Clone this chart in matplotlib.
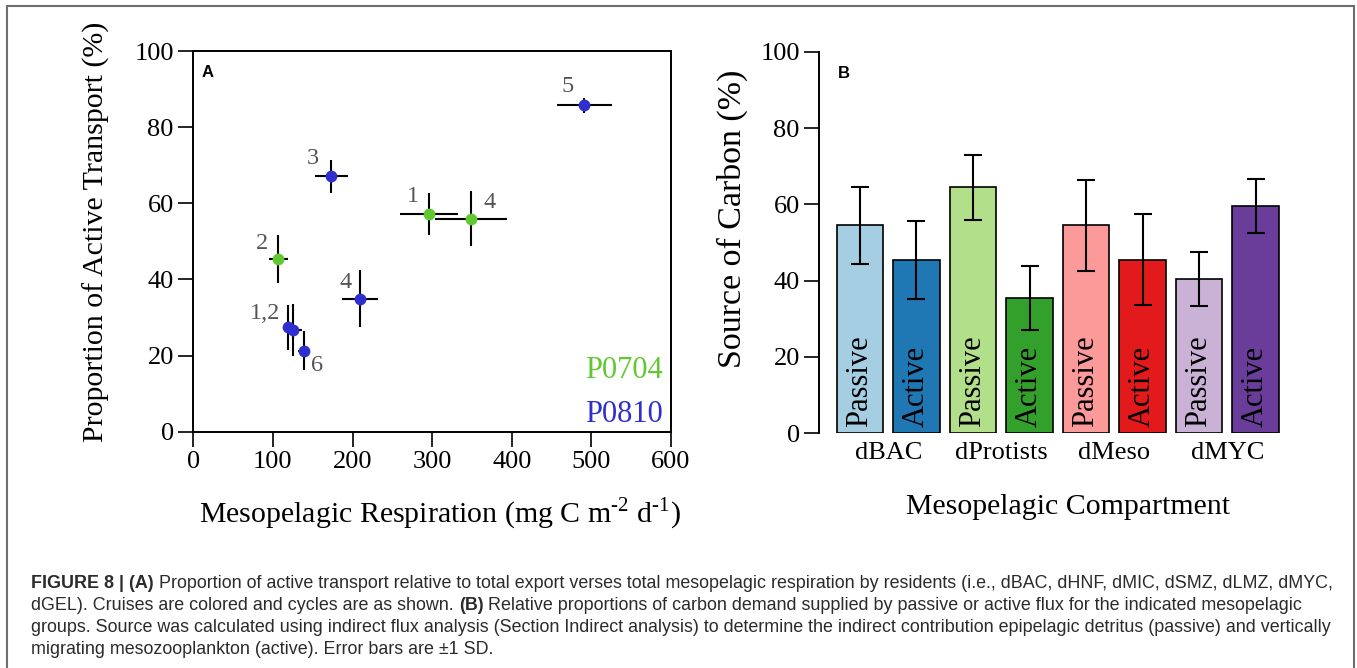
import matplotlib
matplotlib.use('Agg')
import matplotlib.pyplot as plt
from matplotlib.patches import Rectangle
from matplotlib.text import Annotation

plt.rcParams['font.family'] = ['Liberation Serif', 'DejaVu Serif']
plt.rcParams['mathtext.fontset'] = 'custom'
plt.rcParams['mathtext.rm'] = 'Liberation Serif'

W, H = 1357, 668

# ---- panel A data (cruise P0704, cycles 1, 2, 4) ----
p0704_resp = [296, 107, 349]
p0704_resp_sd = [36, 12.5, 45.5]
p0704_active = [57.1, 45.4, 55.9]
p0704_active_sd = [5.5, 6.3, 7.2]

# ---- panel A data (cruise P0810, cycles 1-6) ----
p0810_resp = [118.6, 125.6, 173.4, 209.4, 491.2, 138.7]
p0810_resp_sd = [5, 10.5, 20.5, 23, 35, 7]
p0810_active = [27.4, 26.7, 67.1, 34.9, 85.7, 21.3]
p0810_active_sd = [5.9, 6.9, 4.3, 7.5, 1.9, 5.1]

# cycle labels (text, x, y)
cycle_labels = [('1', 276, 61.7), ('4', 371.5, 60.3), ('2', 85.9, 49.5),
                ('3', 150.8, 71.8), ('4', 191.5, 39.2), ('1,2', 90.1, 31.1),
                ('5', 470.7, 90.6), ('6', 155, 17.5)]

# ---- panel B data ----
groups = ['dBAC', 'dProtists', 'dMeso', 'dMYC']
passive = [54.5, 64.5, 54.5, 40.4]
passive_sd = [10.1, 8.5, 12.0, 7.0]
active = [45.5, 35.5, 45.5, 59.6]
active_sd = [10.2, 8.4, 11.9, 7.0]
passive_col = ['#a6cee3', '#b2df8a', '#fb9a99', '#cab2d6']
active_col = ['#1f78b4', '#33a02c', '#e31a1c', '#6a3d9a']

green = '#62c832'
blue = '#2f2fd0'

fig = plt.figure(figsize=(W / 100, H / 100), dpi=100)

# outer frame
fig.add_artist(Rectangle((7 / W, -0.02), 1347 / W, (668 - 6) / H + 0.02,
                         transform=fig.transFigure, fill=False,
                         edgecolor='#6e6e6e', linewidth=1.5))

# ================= panel A =================
axA = fig.add_axes([193.3 / W, (H - 431.7) / H, 477.7 / W, 380.7 / H])
for xs, xe, ys, ye, c in [(p0704_resp, p0704_resp_sd, p0704_active, p0704_active_sd, green),
                          (p0810_resp, p0810_resp_sd, p0810_active, p0810_active_sd, blue)]:
    axA.errorbar(xs, ys, xerr=xe, yerr=ye, fmt='none', ecolor='black',
                 elinewidth=1.5, capsize=0, zorder=2)
    axA.plot(xs, ys, 'o', color=c, markersize=8.5, markeredgewidth=0, zorder=3)

for t, x, y in cycle_labels:
    axA.text(x, y, t, color='#555555', fontsize=17.5, ha='center', va='center')

axA.text(590, 14.1, 'P0704', color=green, fontsize=22, ha='right', va='baseline')
axA.text(590, 2.6, 'P0810', color=blue, fontsize=22, ha='right', va='baseline')
axA.text(0.017, 0.963, 'A', transform=axA.transAxes, fontsize=12,
         fontweight='bold', family='Liberation Sans', ha='left', va='top')

axA.set_xlim(0, 600)
axA.set_ylim(0, 100)
axA.set_xticks(range(0, 601, 100))
axA.set_yticks(range(0, 101, 20))
axA.tick_params(direction='out', length=11, width=1.2, labelsize=19, pad=3)
for s in axA.spines.values():
    s.set_linewidth(1.4)
axA.set_xlabel('Mesopelagic Respiration (mg C m$^{\\mathregular{\u20102}}$ '
               'd$^{\\mathregular{\u20101}}$)', fontsize=21.5)
axA.set_ylabel('Proportion of Active Transport (%)', fontsize=21.5)
axA.xaxis.set_label_coords(0.516, -0.169)
axA.yaxis.set_label_coords(-0.174, 0.525)

# ================= panel B =================
axB = fig.add_axes([819.3 / W, (H - 433.3) / H, 470.7 / W, 381.6 / H])
heights, errs, cols, names = [], [], [], []
for i in range(len(groups)):
    heights += [passive[i], active[i]]
    errs += [passive_sd[i], active_sd[i]]
    cols += [passive_col[i], active_col[i]]
    names += ['Passive', 'Active']
xpos = list(range(len(heights)))
axB.bar(xpos, heights, width=0.826, color=cols, edgecolor='black',
        linewidth=1.2, zorder=2)
axB.errorbar(xpos, heights, yerr=errs, fmt='none', ecolor='black',
             elinewidth=1.5, capsize=6.5, capthick=1.5, zorder=3)
for x, n in zip(xpos, names):
    axB.text(x, 1.7, n, rotation=90, ha='center', va='bottom', fontsize=22,
             color='black', zorder=4)

axB.set_xlim(-0.72, 7.61)
axB.set_ylim(0, 100)
axB.set_yticks(range(0, 101, 20))
axB.set_xticks([0.5, 2.5, 4.5, 6.5])
axB.set_xticklabels(groups)
axB.tick_params(axis='y', direction='out', length=11, width=1.2, labelsize=19, pad=3)
axB.tick_params(axis='x', length=0, labelsize=19, pad=6)
for side in ['top', 'right', 'bottom']:
    axB.spines[side].set_visible(False)
axB.spines['left'].set_linewidth(1.4)
axB.spines['left'].set_bounds(0, 100)
axB.text(0.04, 0.963, 'B', transform=axB.transAxes, fontsize=12,
         fontweight='bold', family='Liberation Sans', ha='left', va='top')
axB.set_xlabel('Mesopelagic Compartment', fontsize=21.5)
axB.set_ylabel('Source of Carbon (%)', fontsize=24.5)
axB.xaxis.set_label_coords(0.529, -0.159)
axB.yaxis.set_label_coords(-0.152, 0.5616)

# ================= caption =================
cap_lines = [
    [('FIGURE 8 | (A)', True),
     ('Proportion of active transport relative to total export verses total mesopelagic '
      'respiration by residents (i.e., dBAC, dHNF, dMIC, dSMZ, dLMZ, dMYC,', False)],
    [('dGEL). Cruises are colored and cycles are as shown.', False),
     ('(B)', True),
     ('Relative proportions of carbon demand supplied by passive or active flux for the '
      'indicated mesopelagic', False)],
    [('groups. Source was calculated using indirect flux analysis (Section Indirect analysis) '
      'to determine the indirect contribution epipelagic detritus (passive) and vertically', False)],
    [('migrating mesozooplankton (active). Error bars are \u00b11 SD.', False)],
]
cap_base = [587.5, 609.5, 631.5, 653.5]
cap_kw = dict(fontsize=12.9, family='Liberation Sans', color='#2b2b2b')
for yb, parts in zip(cap_base, cap_lines):
    prev = None
    for txt, bold in parts:
        fw = 'bold' if bold else 'normal'
        if prev is None:
            prev = fig.text(31 / W, 1 - yb / H, txt, ha='left', va='baseline',
                            fontweight=fw, **cap_kw)
        else:
            a = Annotation(txt, xy=(1, 0), xycoords=prev, xytext=(3.6, 0),
                           textcoords='offset points', ha='left', va='bottom',
                           fontweight=fw, **cap_kw)
            fig.add_artist(a)
            prev = a

fig.savefig('out.png', dpi=100)
